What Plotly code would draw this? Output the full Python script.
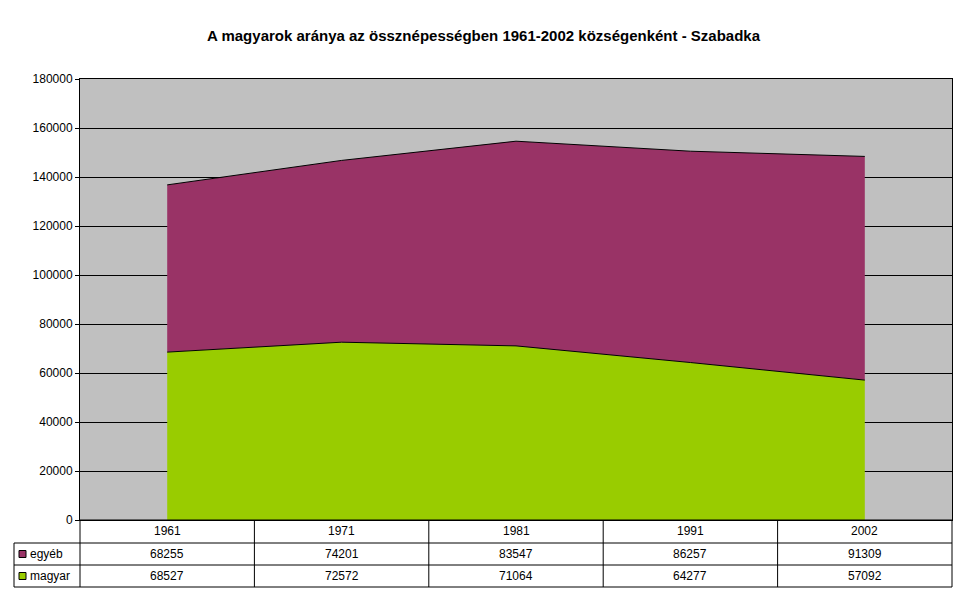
import plotly.graph_objects as go

years = ["1961", "1971", "1981", "1991", "2002"]
egyeb = [68255, 74201, 83547, 86257, 91309]
magyar = [68527, 72572, 71064, 64277, 57092]

W, H = 968, 604
OFF = 8
L, R, T, B = 80 - OFF, 952 - OFF, 79 - OFF, 520 - OFF
pw, ph = R - L, B - T
def px(x): return (x - OFF - L) / pw
def py(y): return (B - (y - OFF)) / ph

xs = list(range(len(years)))
fig = go.Figure()
fig.add_trace(go.Scatter(x=xs, y=magyar, stackgroup="s", name="magyar",
    fillcolor="#99CC00", line=dict(color="black", width=1), mode="lines"))
fig.add_trace(go.Scatter(x=xs, y=egyeb, stackgroup="s", name="egyéb",
    fillcolor="#993366", line=dict(color="black", width=1), mode="lines"))

shapes, ann = [], []
font = dict(family="Liberation Sans, Arial", size=12, color="black")
rows = [520, 543, 565, 587]
n = len(years)
bw = (952 - 80) / n
for y in rows:
    x0 = 80 if y == 520 else 14
    shapes.append(dict(type="line", xref="paper", yref="paper", x0=px(x0), x1=px(952), y0=py(y), y1=py(y), line=dict(color="black", width=1)))
for k in range(n + 1):
    xv = 80 + k * bw
    shapes.append(dict(type="line", xref="paper", yref="paper", x0=px(xv), x1=px(xv), y0=py(520), y1=py(587), line=dict(color="black", width=1)))
shapes.append(dict(type="line", xref="paper", yref="paper", x0=px(14), x1=px(14), y0=py(543), y1=py(587), line=dict(color="black", width=1)))
for yc, col in [(554, "#993366"), (576, "#99CC00")]:
    shapes.append(dict(type="rect", xref="paper", yref="paper", x0=px(19), x1=px(26), y0=py(yc + 3.5), y1=py(yc - 3.5), fillcolor=col, line=dict(color="black", width=1)))
for i in range(n):
    xc = px(80 + (i + 0.5) * bw)
    for y, txt in [(531, years[i]), (554, str(egyeb[i])), (576, str(magyar[i]))]:
        ann.append(dict(xref="paper", yref="paper", x=xc, y=py(y), xanchor="center", yanchor="middle",
                        text=txt, showarrow=False, font=font))
for y, txt in [(554, "egyéb"), (576, "magyar")]:
    ann.append(dict(xref="paper", yref="paper", x=px(28), y=py(y), xanchor="left", yanchor="middle",
                    text=txt, showarrow=False, font=font))
ann.append(dict(xref="paper", yref="paper", x=px(484), y=py(35), xanchor="center", yanchor="middle",
                text="<b>A magyarok aránya az össznépességben 1961-2002 községenként - Szabadka</b>",
                showarrow=False, font=dict(family="Liberation Sans, Arial", size=15, color="black")))

fig.update_layout(
    width=W, height=H, margin=dict(l=L, r=W - R, t=T, b=H - B),
    paper_bgcolor="white", plot_bgcolor="#C0C0C0", showlegend=False,
    xaxis=dict(range=[-0.5, n - 0.5], showticklabels=False, showgrid=False, zeroline=False,
               showline=True, linecolor="black", mirror=True),
    yaxis=dict(range=[0, 180000], dtick=20000, tickformat="d", showgrid=True, gridcolor="black",
               zeroline=False, showline=True, linecolor="black", mirror=True, ticks="outside",
               ticklen=4, tickcolor="black", tickfont=font),
    shapes=shapes, annotations=ann,
)
fig.write_html("out.html")
